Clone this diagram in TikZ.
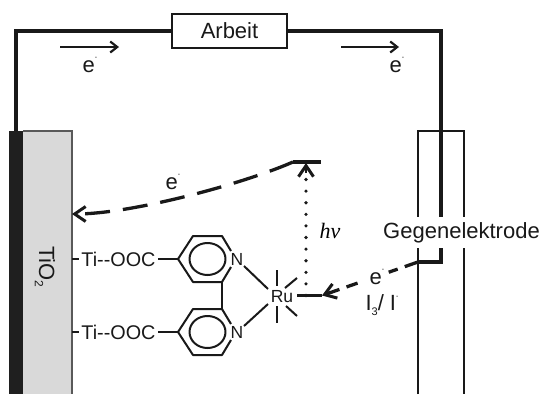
\documentclass[tikz,border=0pt]{standalone}
\usepackage{fontspec}
\setmainfont{Liberation Sans}
\newfontfamily\hvfont{Liberation Serif}
\usetikzlibrary{arrows.meta}
\definecolor{ink}{gray}{0.1}
\newcommand{\eminus}{e\raisebox{0.6em}{\fontsize{7}{7}\selectfont -}}
\tikzset{
  x=1pt,y=-1pt,
  lab/.style={inner sep=0pt,text=ink,font=\fontsize{22}{24}\selectfont},
  chem/.style={inner sep=0pt,text=ink,font=\fontsize{19.8}{21}\selectfont},
  atom/.style={inner sep=0pt,text=ink,font=\fontsize{17.5}{19}\selectfont},
  wire/.style={draw=ink,line width=3.3pt},
  thinw/.style={draw=ink,line width=2.2pt},
  bond/.style={draw=ink,line width=2pt,line join=round},
  tipb/.style={-{Straight Barb[length=7pt,width=11pt,line width=2.2pt]}},
  tipc/.style={-{Straight Barb[length=11pt,width=15pt,line width=3pt]}},
}
\begin{document}
\begin{tikzpicture}
\useasboundingbox (0,0) rectangle (541,394);
% electrodes
\fill[black!88] (9,131) rectangle (23,394);
\fill[gray!30] (23,131) rectangle (72,394);
\draw[draw=gray!70!black,line width=1.6pt] (23,131) -- (72,131) -- (72,394);
\node[lab,rotate=-90] (tio) at (45,267) {TiO\raisebox{-0.2em}{\fontsize{12}{12}\selectfont 2}};
\draw[thinw] (418,394) -- (418,131) -- (464,131) -- (464,394);
% external circuit
\node[lab,draw=ink,line width=2.2pt,minimum width=115pt,minimum height=34pt,inner sep=0pt] (arbeit) at (229.5,31) {Arbeit};
\coordinate (tl) at (16,31);
\coordinate (tr) at (441,31);
\coordinate (anode) at (16,131);
\coordinate (cbot) at (441,262);
\coordinate (cmid) at (418,262);
\node[lab,fill=white,minimum height=31pt,text width=157pt,align=center] (gegen) at (461.5,232.5) {Gegenelektrode};
\draw[wire,line join=miter] (anode) -- (tl) -- (arbeit.west);
\draw[wire,line join=miter] (arbeit.east) -- (tr) -- (tr |- gegen.north);
\draw[wire,line join=miter] (tr |- gegen.south) -- (cbot) -- (cmid);
% electron arrows in wire
\coordinate (a1) at (60,47); \coordinate (a2) at (119,47);
\coordinate (b1) at (341,47); \coordinate (b2) at (399,47);
\draw[draw=ink,line width=2.2pt,tipb] (a1) -- (a2);
\draw[draw=ink,line width=2.2pt,tipb] (b1) -- (b2);
\node[lab] (e1) at (90,65) {\eminus};
\node[lab] (e2) at (397,65) {\eminus};
% levels
\coordinate (lvlL) at (293,162); \coordinate (lvlR) at (321,162);
\coordinate (exc) at (306,163);
\coordinate (gndL) at (297,295.5); \coordinate (gndR) at (322,295.5);
\coordinate (gnd) at (306,295.5);
\coordinate (tisurf) at (72,214);
\draw[wire] (lvlL) -- (lvlR);
\draw[wire] (gndL) -- (gndR);
\draw[draw=ink,line width=3.3pt,dash pattern=on 25pt off 13pt,tipc] (lvlL) .. controls (240,185) and (130,214) .. (tisurf);
\draw[draw=ink,line width=3.6pt,dash pattern=on 0pt off 11.6pt,line cap=round,shorten >=8pt] (gnd) -- (exc);
\draw[draw=ink,line width=2.6pt,tipc] (306,173) -- (exc);
\draw[draw=ink,line width=3.3pt,dash pattern=on 14pt off 7.5pt on 9.5pt off 33pt on 11.7pt off 7.5pt on 40pt,tipc] (cmid) -- (gndR);
\node[lab] (e3) at (173,182) {\eminus};
\node[lab] (e4) at (377,277) {\eminus};
\node[lab] (redox) at (382,305) {I\raisebox{-0.25em}{\fontsize{11}{11}\selectfont 3}/ I\raisebox{0.55em}{\fontsize{7}{7}\selectfont -}};
\node[inner sep=0pt,text=black,font=\fontsize{22}{24}\selectfont\hvfont\itshape] (hv) at (330,231) {hν};
% dye
\node[atom] (ru) at (282,296.5) {Ru};
\node[atom] (n1) at (237,259) {N};
\node[atom] (n2) at (237,332) {N};
\node[chem] (t1) at (118.5,259) {Ti-{}-OOC};
\node[chem] (t2) at (118.5,332) {Ti-{}-OOC};
\coordinate (p1) at (178,259); \coordinate (p2) at (193,236); \coordinate (p3) at (222,236);
\coordinate (p4) at (222,282); \coordinate (p5) at (193,282);
\coordinate (q1) at (178,332); \coordinate (q2) at (193,309); \coordinate (q3) at (222,309);
\coordinate (q4) at (222,355); \coordinate (q5) at (193,355);
\draw[bond] (231,251) -- (p3) -- (p2) -- (p1) -- (p5) -- (p4) -- (231,267);
\draw[bond] (231,324) -- (q3) -- (q2) -- (q1) -- (q5) -- (q4) -- (231,340);
\draw[bond] (207.5,259) ellipse [x radius=18,y radius=16];
\draw[bond] (207.5,332) ellipse [x radius=18,y radius=16];
\draw[bond] (p4) -- (q3);
\draw[bond] (158,259) -- (p1);
\draw[bond] (158,332) -- (q1);
\draw[bond] (72,259) -- (79,259);
\draw[bond] (72,332) -- (79,332);
\draw[bond] (244,266) -- (268,289);
\draw[bond] (244,326) -- (268,304);
\draw[bond] (277,270) -- (277,286);
\draw[bond] (277,306) -- (277,323);
\draw[bond] (285,288) -- (297,278);
\draw[bond] (286,306) -- (297,316);
\end{tikzpicture}
\end{document}
